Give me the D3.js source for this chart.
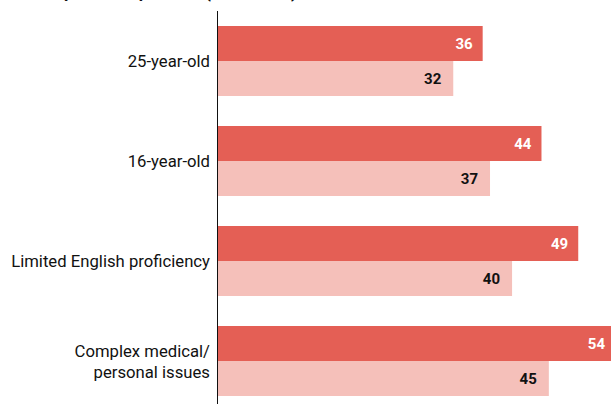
<!DOCTYPE html>
<html>
<head>
<meta charset="utf-8">
<script src="https://cdn.jsdelivr.net/npm/d3@7"></script>
<style>
  body { margin: 0; background: #fff; }
  svg { display: block; }
  text { font-family: Roboto, "Noto Sans", sans-serif; }
</style>
</head>
<body>
<div id="chart-area"></div>
<script>
var width = 611,
    height = 404;

// data
var categories = ["25-year-old", "16-year-old", "Limited English proficiency", "Complex medical/\npersonal issues"];
var seriesKeys = ["first", "second"];
var firstValues = [36, 44, 49, 54];
var secondValues = [32, 37, 40, 45];
var titleText = "Time spent with patients (in minutes)";

var colors = { first: "#e45f55", second: "#f5c0ba" };
var labelColors = { first: "#ffffff", second: "#111111" };

var svg = d3.select("#chart-area").append("svg")
    .attr("width", width)
    .attr("height", height);

var x = d3.scaleLinear()
    .domain([0, 54])
    .range([218, 615]);

var y = d3.scaleBand()
    .domain(categories)
    .range([11, 411])
    .paddingInner(0.3)
    .paddingOuter(0.15);

var ySub = d3.scaleBand()
    .domain(seriesKeys)
    .range([0, y.bandwidth()]);

var rows = categories.map(function(c, i) {
    return { cat: c, first: firstValues[i], second: secondValues[i] };
});

// title (mostly clipped at the top, as in the source)
svg.append("text")
    .attr("x", 12)
    .attr("y", -2)
    .style("font-size", "17px")
    .style("font-weight", "bold")
    .attr("fill", "#111")
    .text(titleText);

var groups = svg.selectAll(".group")
    .data(rows)
    .enter().append("g")
    .attr("class", "group")
    .attr("transform", function(d) { return "translate(0," + y(d.cat) + ")"; });

groups.selectAll("rect")
    .data(function(d) { return seriesKeys.map(function(k) { return { key: k, value: d[k] }; }); })
    .enter().append("rect")
    .attr("x", x(0))
    .attr("y", function(d) { return ySub(d.key); })
    .attr("width", function(d) { return x(d.value) - x(0); })
    .attr("height", ySub.bandwidth())
    .attr("fill", function(d) { return colors[d.key]; });

groups.selectAll(".val")
    .data(function(d) { return seriesKeys.map(function(k) { return { key: k, value: d[k] }; }); })
    .enter().append("text")
    .attr("class", "val")
    .attr("x", function(d) { return x(d.value) - (d.key === "first" ? 10 : 12); })
    .attr("y", function(d) { return ySub(d.key) + ySub.bandwidth() / 2; })
    .attr("dy", "0.36em")
    .attr("text-anchor", "end")
    .style("font-size", "15px")
    .style("font-weight", "bold")
    .attr("fill", function(d) { return labelColors[d.key]; })
    .text(function(d) { return d.value; });

// category labels, split on newline
var catLabels = groups.append("text")
    .attr("class", "cat")
    .attr("text-anchor", "end")
    .style("font-size", "16.7px")
    .attr("fill", "#111");

catLabels.each(function(d) {
    var lines = d.cat.split("\n");
    var t = d3.select(this);
    lines.forEach(function(line, i) {
        t.append("tspan")
            .attr("x", 210)
            .attr("y", y.bandwidth() / 2 + (i - (lines.length - 1) / 2) * 21)
            .attr("dy", "0.36em")
            .text(line);
    });
});

// vertical axis line
svg.append("line")
    .attr("x1", 217.5)
    .attr("x2", 217.5)
    .attr("y1", 11)
    .attr("y2", height)
    .attr("stroke", "#111")
    .attr("stroke-width", 1);
</script>
</body>
</html>
